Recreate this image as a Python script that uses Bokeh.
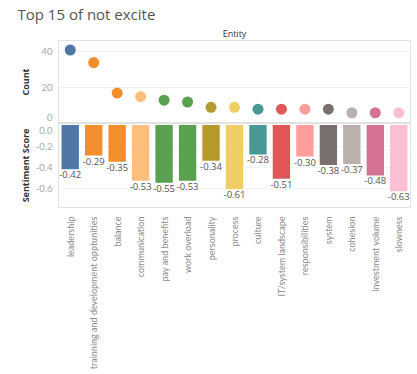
from bokeh.plotting import figure
from bokeh.layouts import column
from bokeh.models import (ColumnDataSource, FactorRange, Range1d, FixedTicker, Title,
                          CustomJSTickFormatter)
from bokeh.embed import file_html
from bokeh.resources import INLINE
from math import pi

entities = ["leadership", "trainning and development opptunities", "balance",
            "communication", "pay and benefits", "work overload", "personality",
            "process", "culture", "IT/system landscape", "responsibilities",
            "system", "cohesion", "investment volume", "slowness"]
counts = [41, 34, 17, 15, 13, 12, 9, 9, 8, 8, 8, 8, 6, 6, 6]
sentiment = [-0.42, -0.29, -0.35, -0.53, -0.55, -0.53, -0.34, -0.61, -0.28,
             -0.51, -0.30, -0.38, -0.37, -0.48, -0.63]
colors = ["#4e79a7", "#f28e2b", "#f28e2b", "#ffbe7d", "#59a14f", "#59a14f",
          "#b6992d", "#f1ce63", "#499894", "#e15759", "#ff9d9a", "#79706e",
          "#bab0ac", "#d37295", "#fabfd2"]
count_ticks = [0, 20, 40]
sent_ticks = [0.0, -0.2, -0.4, -0.6]

# Tableau nudges the edge "0" labels inward; emulate by placing those labels slightly inside
COUNT_ZERO_POS = 3.4
SENT_ZERO_POS = -0.05

labels = ["%.2f" % v for v in sentiment]
src = ColumnDataSource(dict(e=entities, c=counts, s=sentiment, col=colors, lab=labels))

FONT = "Lato"
W = 417
TICK_FS = "9.5px"
TICK_COL = "#a8a8a8"

# ---------- top panel (Count) ----------
top = figure(width=W, height=123, x_range=FactorRange(*entities, range_padding=0),
             y_range=Range1d(0, 46.3), output_backend="svg", toolbar_location=None,
             x_axis_location=None, min_border_left=58, min_border_right=7,
             min_border_top=38, min_border_bottom=0)
top.title.text = "Top 15 of not excite"
top.title.text_font = "Open Sans"
top.title.text_font_size = "15px"
top.title.text_font_style = "normal"
top.title.text_color = "#555555"
top.title.offset = -41
top.title.standoff = 2
top.add_layout(Title(text="Entity", align="center", text_font="Open Sans", text_font_size="9px",
                     text_font_style="normal", text_color="#333333", standoff=1), "above")
top.scatter("e", "c", source=src, size=11, color="col", line_color=None)
top.yaxis.ticker = FixedTicker(ticks=[COUNT_ZERO_POS if t == 0 else t for t in count_ticks])
top.yaxis.formatter = CustomJSTickFormatter(
    args=dict(z=COUNT_ZERO_POS),
    code="return Math.abs(tick - z) < 1e-9 ? '0' : tick.toFixed(0)")
top.ygrid.ticker = FixedTicker(ticks=[t for t in count_ticks if t != 0])
top.yaxis.axis_label = "Count"
top.yaxis.axis_label_standoff = 6
top.xgrid.grid_line_color = None
top.ygrid.grid_line_color = "#f0f0f0"

# ---------- bottom panel (Sentiment Score) ----------
bot = figure(width=W, height=251, x_range=top.x_range, y_range=Range1d(-0.785, 0.015),
             output_backend="svg", toolbar_location=None,
             min_border_left=58, min_border_right=7, min_border_top=0, min_border_bottom=167)
bot.vbar(x="e", top=0, bottom="s", width=0.74, source=src, color="col", line_color=None)
bot.text(x="e", y="s", text="lab", source=src, text_align="center", text_baseline="top",
         y_offset=2, text_font_size="9.5px", text_color="#555555", text_font={"value": "Open Sans"})
bot.yaxis.ticker = FixedTicker(ticks=[SENT_ZERO_POS if t == 0 else t for t in sent_ticks])
bot.yaxis.formatter = CustomJSTickFormatter(
    args=dict(z=SENT_ZERO_POS),
    code="return Math.abs(tick - z) < 1e-9 ? '0.0' : tick.toFixed(1)")
bot.ygrid.ticker = FixedTicker(ticks=[t for t in sent_ticks if t != 0])
bot.yaxis.axis_label = "Sentiment Score"
bot.yaxis.axis_label_standoff = 1
bot.xaxis.major_label_orientation = pi / 2
bot.xaxis.axis_line_color = None
bot.xaxis.major_tick_line_color = None
bot.xaxis.major_label_standoff = 3
bot.xaxis.major_label_text_font = FONT
bot.xaxis.major_label_text_font_size = "9px"
bot.xaxis.major_label_text_color = "#8a8a8a"
bot.xgrid.grid_line_color = None
bot.ygrid.grid_line_color = "#f3f3f3"

for p in (top, bot):
    p.outline_line_color = "#e2e2e2"
    p.yaxis.axis_line_color = "#e2e2e2"
    p.yaxis.major_tick_line_color = None
    p.yaxis.minor_tick_line_color = None
    p.yaxis.major_label_text_font = FONT
    p.yaxis.major_label_text_font_size = TICK_FS
    p.yaxis.major_label_text_color = TICK_COL
    p.yaxis.major_label_standoff = 0
    p.yaxis.axis_label_text_font = "Open Sans"
    p.yaxis.axis_label_text_font_size = "9px"
    p.yaxis.axis_label_text_font_style = "bold"
    p.yaxis.axis_label_text_color = "#333333"

layout = column(top, bot, spacing=0)
open("out.html", "w").write(file_html(layout, INLINE))
